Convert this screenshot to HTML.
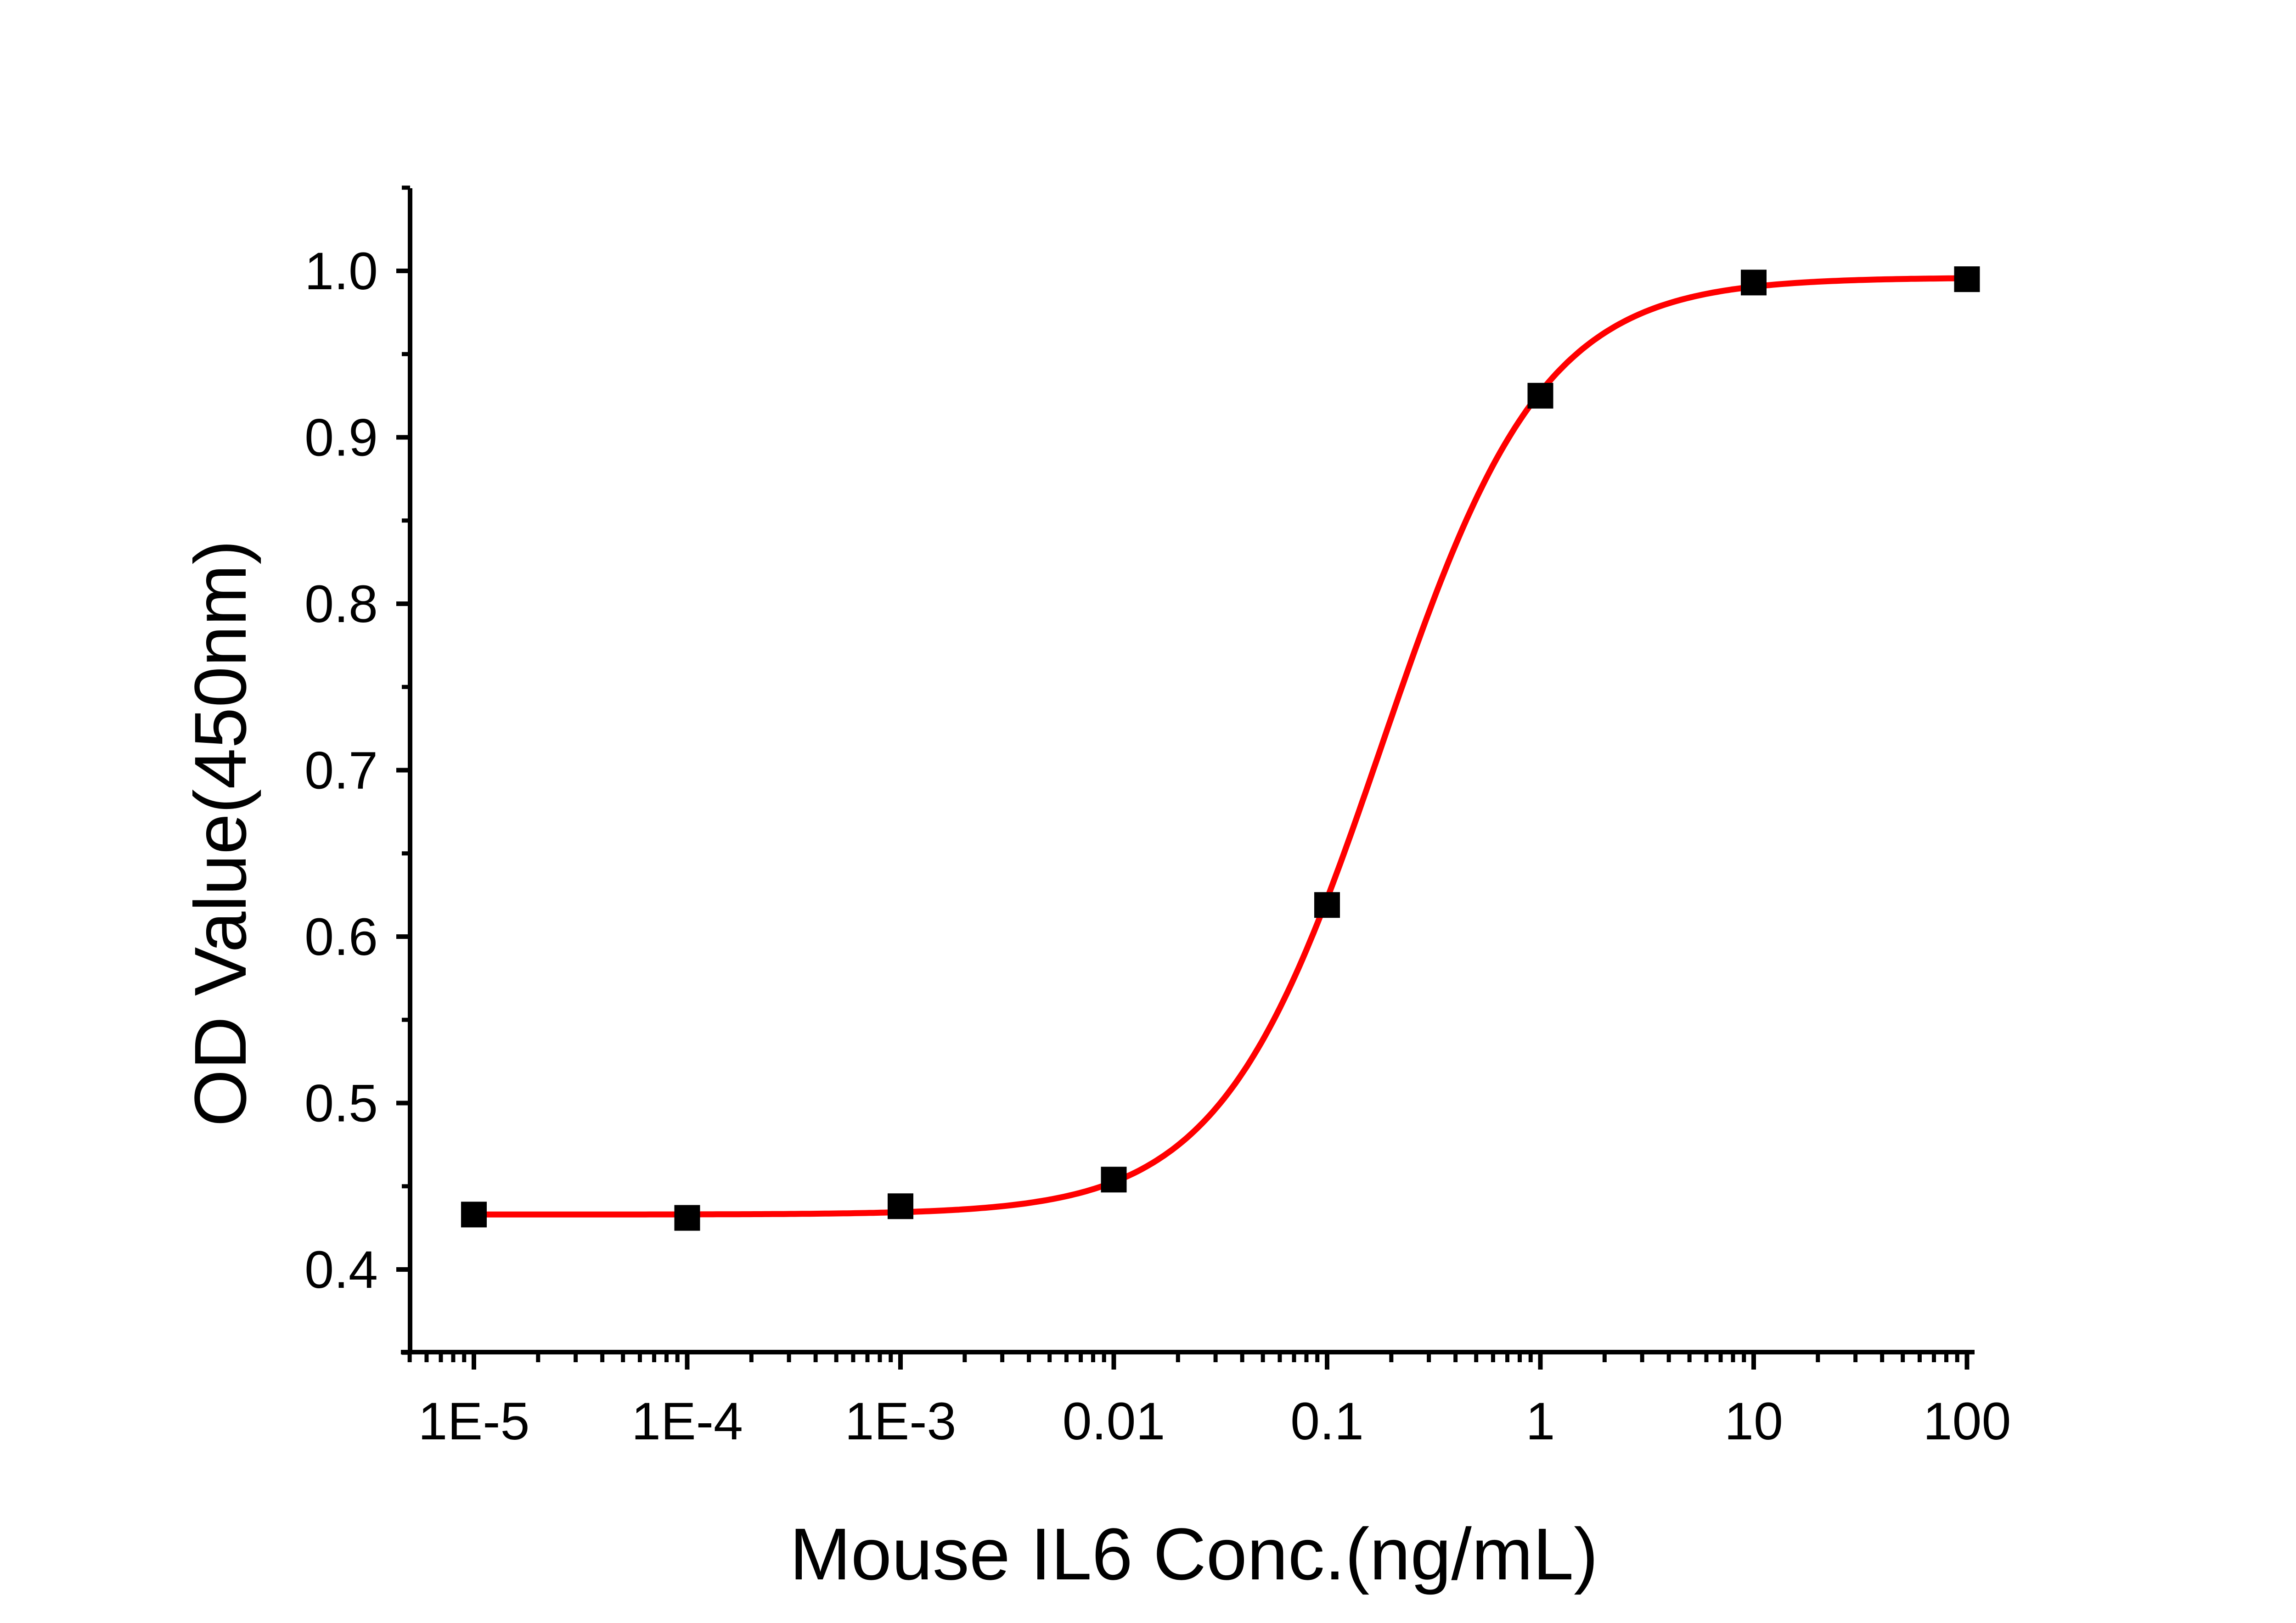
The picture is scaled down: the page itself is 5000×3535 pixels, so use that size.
<!DOCTYPE html>
<html><head><meta charset="utf-8"><style>
html,body{margin:0;padding:0;background:#fff;}
svg{display:block;font-family:"Liberation Sans",sans-serif;}
</style></head><body>
<svg id="chart" width="5000" height="3535" viewBox="0 0 5000 3535" xmlns="http://www.w3.org/2000/svg">
<rect width="5000" height="3535" fill="#fff"/>
<g id="axes"></g>
<g id="curve"></g>
<g id="points"></g>
<text x="2600" y="3440" text-anchor="middle" font-size="160">Mouse IL6 Conc.(ng/mL)</text>
<text transform="translate(535,1815) rotate(-90)" text-anchor="middle" font-size="160">OD Value(450nm)</text>
</svg>
<script>
const conc = [1e-5, 1e-4, 1e-3, 0.01, 0.1, 1, 10, 100];
const od = [0.433, 0.431, 0.438, 0.454, 0.619, 0.925, 0.993, 0.995];
const fitBottom = 0.433, fitTop = 0.996, fitEC50 = 0.18, fitHill = 1.15;
const xTickVals = [1e-5, 1e-4, 1e-3, 0.01, 0.1, 1, 10, 100];
const xTickLabels = ["1E-5", "1E-4", "1E-3", "0.01", "0.1", "1", "10", "100"];
const yTickVals = [0.4, 0.5, 0.6, 0.7, 0.8, 0.9, 1.0];
const yTickLabels = ["0.4", "0.5", "0.6", "0.7", "0.8", "0.9", "1.0"];

const NS = "http://www.w3.org/2000/svg";
const X0 = 1032, DEC = 464.5, LX0 = -5;
const Y0 = 2765, PER = 3625;
function xs(v){ return X0 + (Math.log10(v) - LX0) * DEC; }
function ys(v){ return Y0 - (v - 0.4) * PER; }
const axL = 893, axB = 2945, axT = 410, axR = 4300;
function mk(tag, attrs, parent){ const e = document.createElementNS(NS, tag); for (const k in attrs) e.setAttribute(k, attrs[k]); parent.appendChild(e); return e; }
const axes = document.getElementById("axes");
let e;
e = mk("line", {x1:axL, y1:axT, x2:axL, y2:axB+5, stroke:"#000","stroke-width":10}, axes);


e = mk("line", {x1:axL-20, y1:axB, x2:axR, y2:axB, stroke:"#000","stroke-width":10}, axes);


for (let i = 0; i < yTickVals.length; i++) {
  const y = ys(yTickVals[i]);
  e = mk("line", {x1:axL-30, y1:y, x2:axL, y2:y, stroke:"#000","stroke-width":10}, axes);
  
  
  e = mk("text", {x:axL-70, y:y+40, "text-anchor":"end","font-size":115}, axes);
  e.textContent = yTickLabels[i];
  
  
}
for (let v = 0.35; v <= 1.051; v += 0.1) {
  const y = ys(v);
  e = mk("line", {x1:axL-18, y1:y, x2:axL, y2:y, stroke:"#000","stroke-width":9}, axes);
  
  
}
for (let i = 0; i < xTickVals.length; i++) {
  const x = xs(xTickVals[i]);
  e = mk("line", {x1:x, y1:axB, x2:x, y2:axB+38, stroke:"#000","stroke-width":10}, axes);
  
  
  e = mk("text", {x:x, y:axB+190, "text-anchor":"middle","font-size":115}, axes);
  e.textContent = xTickLabels[i];
  
  
}
for (let d = -6; d <= 2; d++) {
  for (let m = 2; m <= 9; m++) {
    const v = m * Math.pow(10, d);
    const x = xs(v);
    if (x < axL - 2 || x > axR) continue;
    e = mk("line", {x1:x, y1:axB, x2:x, y2:axB+22, stroke:"#000","stroke-width":9}, axes);
    
    
  }
}
let d = "";
const lo = Math.log10(conc[0]), hi = Math.log10(conc[conc.length-1]);
for (let i = 0; i <= 400; i++) {
  const lx = lo + (hi - lo) * i / 400, v = Math.pow(10, lx);
  const y = fitBottom + (fitTop - fitBottom) / (1 + Math.pow(fitEC50 / v, fitHill));
  d += (i ? "L" : "M") + xs(v).toFixed(1) + "," + ys(y).toFixed(1);
}
e = mk("path", {d:d, fill:"none", stroke:"#ff0000","stroke-width":13,"stroke-linecap":"round","stroke-linejoin":"round"}, document.getElementById("curve"));


const pts = document.getElementById("points");
for (let i = 0; i < conc.length; i++) {
  const x = xs(conc[i]), y = ys(od[i]);
  e = mk("rect", {x:x-28, y:y-28, width:56, height:56, fill:"#000"}, pts);
  
  
}
</script>
</body></html>
